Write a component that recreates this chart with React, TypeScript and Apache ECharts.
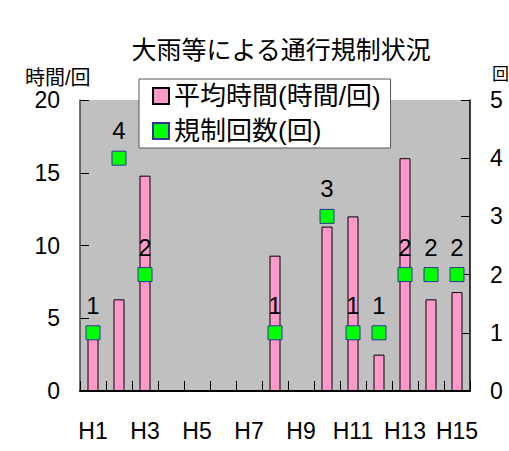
import React, { useEffect, useRef } from "react";
import * as echarts from "echarts";

const categories = ["H1", "H2", "H3", "H4", "H5", "H6", "H7", "H8", "H9", "H10", "H11", "H12", "H13", "H14", "H15"];
const avgHours: (number | null)[] = [3.8, 6.3, 14.8, null, null, null, null, 9.3, null, 11.3, 12.0, 2.5, 16.0, 6.3, 6.8];
const counts: (number | null)[] = [1, 4, 2, null, null, null, null, 1, null, 3, 1, 1, 2, 2, 2];
const leftTicks = { min: 0, max: 20, interval: 5 };
const rightTicks = { min: 0, max: 5, interval: 1 };

const FONT = '"Liberation Sans", "Noto Sans CJK JP", sans-serif';

export default function App() {
  const ref = useRef<HTMLDivElement>(null);
  useEffect(() => {
    if (!ref.current) return;
    const chart = echarts.init(ref.current, null, { renderer: "svg" });
    chart.setOption({
      animation: false,
      backgroundColor: "#ffffff",
      textStyle: { fontFamily: FONT },
      title: [
        {
          text: "大雨等による通行規制状況",
          left: 276,
          top: 32,
          textAlign: "center",
          textStyle: { fontSize: 25, fontWeight: "normal", color: "#000", fontFamily: FONT },
        },
        {
          text: "時間/回",
          left: 20,
          top: 63,
          textStyle: { fontSize: 20, fontWeight: "normal", color: "#000", fontFamily: FONT },
        },
        {
          text: "回",
          left: 487,
          top: 61,
          textStyle: { fontSize: 17, fontWeight: "normal", color: "#000", fontFamily: FONT },
        },
      ],
      legend: {
        orient: "vertical",
        left: 139,
        top: 79,
        padding: [4, 10, 4, 13],
        itemGap: 9,
        itemWidth: 16,
        itemHeight: 16,
        itemTextGap: 9,
        backgroundColor: "#ffffff",
        borderColor: "#555555",
        borderWidth: 1,
        textStyle: { fontSize: 26, color: "#000", fontFamily: FONT },
        data: [
          { name: "平均時間(時間/回)", icon: "rect" },
          { name: "規制回数(回)", icon: "rect" },
        ],
      },
      grid: {
        left: 80,
        top: 100,
        right: 39,
        bottom: 60,
        show: true,
        backgroundColor: "#c0c0c0",
        borderWidth: 0,
      },
      xAxis: {
        type: "category",
        data: categories,
        boundaryGap: true,
        axisLine: { lineStyle: { color: "#000", width: 2 } },
        axisTick: { show: true, inside: true, length: 10, interval: 0, lineStyle: { color: "#000" } },
        axisLabel: { interval: 1, fontSize: 23, color: "#000", margin: 28, fontFamily: FONT },
        splitLine: { show: false },
      },
      yAxis: [
        {
          type: "value",
          min: leftTicks.min,
          max: leftTicks.max,
          interval: leftTicks.interval,
          position: "left",
          axisLine: { show: true, lineStyle: { color: "#444", width: 1.5 } },
          axisTick: { show: true, inside: true, length: 9, lineStyle: { color: "#000" } },
          axisLabel: { fontSize: 23, color: "#000", margin: 20, fontFamily: FONT },
          splitLine: { show: false },
        },
        {
          type: "value",
          min: rightTicks.min,
          max: rightTicks.max,
          interval: rightTicks.interval,
          position: "right",
          axisLine: { show: true, lineStyle: { color: "#000", width: 1.5 } },
          axisTick: { show: true, inside: true, length: 9, lineStyle: { color: "#000" } },
          axisLabel: { fontSize: 23, color: "#000", margin: 20, fontFamily: FONT },
          splitLine: { show: false },
        },
      ],
      series: [
        {
          name: "平均時間(時間/回)",
          type: "bar",
          yAxisIndex: 0,
          data: avgHours.map((v) => (v == null ? "-" : v)),
          barWidth: 11,
          itemStyle: { color: "#ff99cc", borderColor: "#000", borderWidth: 1 },
        },
        {
          name: "規制回数(回)",
          type: "scatter",
          yAxisIndex: 1,
          data: counts.map((v) => (v == null ? "-" : v)),
          symbol: "rect",
          symbolSize: 14,
          itemStyle: { color: "#00ff00", borderColor: "#333399", borderWidth: 1, opacity: 1 },
          label: {
            show: true,
            position: "top",
            distance: 8,
            fontSize: 24,
            color: "#000",
            fontFamily: FONT,
          },
          z: 5,
        },
      ],
    });
    return () => chart.dispose();
  }, []);
  return <div ref={ref} style={{ position: "fixed", left: 0, top: 0, width: 509, height: 451 }} />;
}
